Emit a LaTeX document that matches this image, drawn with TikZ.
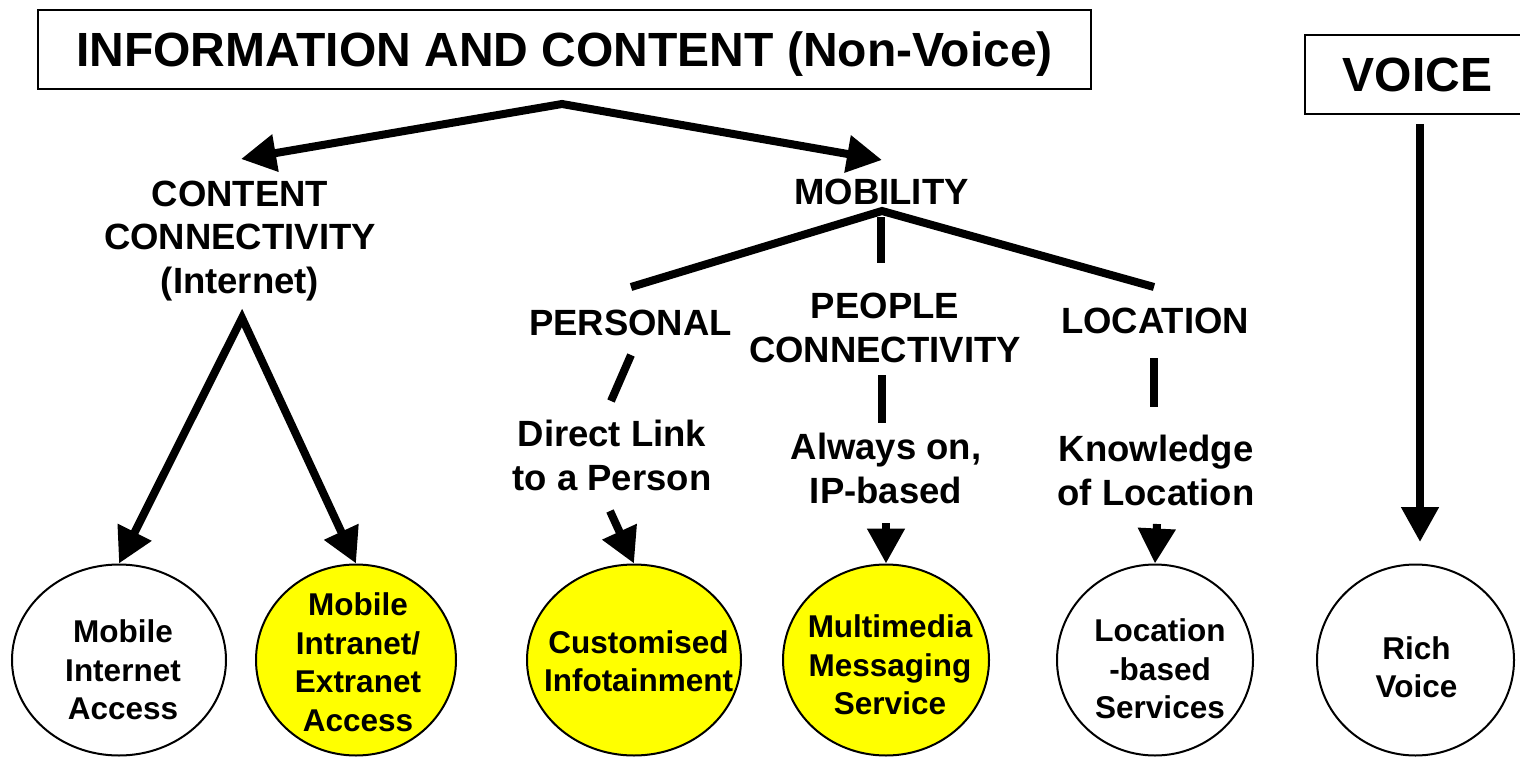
\documentclass[tikz,border=0pt]{standalone}
\usepackage{fontspec}
\setmainfont{Liberation Sans}
\usetikzlibrary{arrows.meta,shapes.geometric}
\definecolor{yel}{RGB}{255,255,0}
\begin{document}
\begin{tikzpicture}[x=1pt,y=-1pt,
  tbox/.style={draw, line width=2pt, inner sep=0pt, font=\bfseries\fontsize{48}{58}\selectfont, text height=35pt, text depth=0pt},
  lbl/.style={inner sep=0pt, align=center, font=\bfseries\fontsize{36.5}{43.5}\selectfont, anchor=base},
  ell/.style={draw, ellipse, line width=2pt, inner sep=0pt, minimum height=191pt},
  etxt/.style={inner sep=0pt, align=center, font=\bfseries\fontsize{31.5}{38.5}\selectfont},
  conn/.style={line width=8pt},
  arr/.style={conn, -{Triangle[length=35pt,width=36pt]}},
  darr/.style={conn, {Triangle[length=35pt,width=36pt]}-{Triangle[length=35pt,width=36pt]}},
]
\path[fill=white, use as bounding box] (0,0) rectangle (1520,757);

% header boxes
\node[tbox, minimum width=1053pt, minimum height=79pt] (title) at (564.5,49.5) {INFORMATION AND CONTENT (Non-Voice)};
\node[tbox, minimum width=225pt, minimum height=79pt] (voice) at (1417.5,74.5) {VOICE};

% category labels (base = baseline of the last line)
\node[lbl] (cc) at (240,293) {CONTENT\\CONNECTIVITY\\(Internet)};
\node[lbl] (mob) at (881.5,204) {MOBILITY};
\node[lbl] (pers) at (630.5,335) {PERSONAL};
\node[lbl] (people) at (885,362) {PEOPLE\\CONNECTIVITY};
\node[lbl] (loc) at (1155,333) {LOCATION};
\node[lbl] (direct) at (612,490) {Direct Link\\to a Person};
\node[lbl] (always) at (886,503) {Always on,\\IP-based};
\node[lbl] (know) at (1156,505) {Knowledge\\of Location};

% service ellipses
\node[ell, minimum width=214pt] (e1) at (119,660) {};
\node[ell, minimum width=200pt, fill=yel] (e2) at (356,660) {};
\node[ell, minimum width=214pt, fill=yel] (e3) at (634,660) {};
\node[ell, minimum width=206pt, fill=yel] (e4) at (886,660) {};
\node[ell, minimum width=196pt] (e5) at (1155,660) {};
\node[ell, minimum width=197pt] (e6) at (1415.5,660) {};
\node[etxt, xshift=4pt, yshift=-10pt] (t1) at (e1.center) {Mobile\\Internet\\Access};
\node[etxt, xshift=2pt, yshift=-2pt] (t2) at (e2.center) {Mobile\\Intranet/\\Extranet\\Access};
\node[etxt, xshift=4.5pt, yshift=-1pt] (t3) at (e3.center) {Customised\\Infotainment};
\node[etxt, xshift=4pt, yshift=-5pt] (t4) at (e4.center) {Multimedia\\Messaging\\Service};
\node[etxt, xshift=5pt, yshift=-9pt] (t5) at (e5.center) {Location\\-based\\Services};
\node[etxt, xshift=1pt, yshift=-7pt] (t6) at (e6.center) {Rich\\Voice};

% connector end points
\coordinate (tApex) at (562,104);
\coordinate (ccTip) at (241,159);
\coordinate (moTip) at (882,160);
\coordinate (cApex) at (242,318);
\coordinate (mApex) at (882,211);
\coordinate (pL) at (631,287);
\coordinate (pR) at (1154,287);
\coordinate (mV1) at (881,217);
\coordinate (mV2) at (881,263);
\coordinate (pp1) at (882,375);
\coordinate (pp2) at (882,423);
\coordinate (lc1) at (1154,358);
\coordinate (lc2) at (1154,407);
\coordinate (ps1) at (631,355);
\coordinate (ps2) at (611,401);
\coordinate (dS) at (610,511);
\coordinate (aS) at (886,523);
\coordinate (kS) at (1157,524);
\coordinate (vS) at (1420,124);
\coordinate (vT) at (1420,542);

% connectors
\draw[darr] (ccTip) -- (tApex) -- (moTip);
\draw[darr] (e1.north) -- (cApex) -- (e2.north);
\draw[conn] (pL) -- (mApex) -- (pR);
\draw[conn] (mV1) -- (mV2);
\draw[conn] (pp1) -- (pp2);
\draw[conn] (lc1) -- (lc2);
\draw[conn] (ps1) -- (ps2);
\draw[arr] (dS) -- (e3.north);
\draw[arr] (aS) -- (e4.north);
\draw[arr] (kS) -- (e5.north);
\draw[arr] (vS) -- (vT);
\end{tikzpicture}
\end{document}
